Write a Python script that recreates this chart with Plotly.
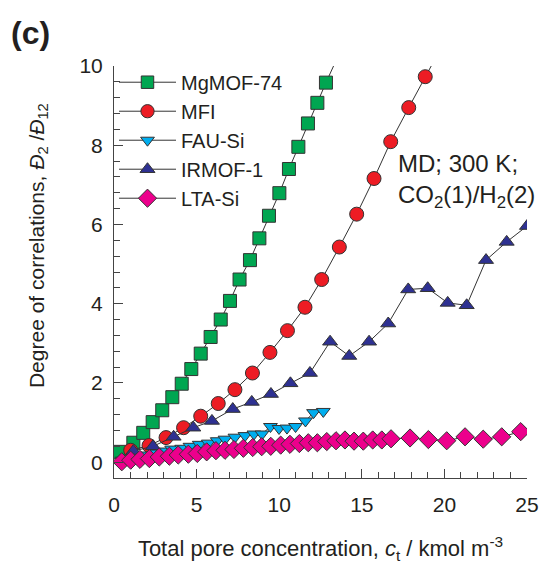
import plotly.graph_objects as go

# Total pore concentration c_t (kmol m^-3) and degree of correlations for each host
mg_x = [0.36, 1.17, 1.77, 2.34, 2.92, 3.53, 4.10, 4.68, 5.25, 5.85, 6.46, 7.02, 7.60,
        8.23, 8.80, 9.38, 10.01, 10.59, 11.16, 11.74, 12.31, 12.83, 13.40]
mg_y = [0.26, 0.49, 0.74, 1.01, 1.31, 1.64, 1.98, 2.35, 2.74, 3.16, 3.60, 4.07, 4.61,
        5.10, 5.65, 6.22, 6.79, 7.40, 7.96, 8.55, 9.07, 9.58, 10.10]

mfi_x = [1.01, 2.12, 3.15, 4.21, 5.25, 6.31, 7.32, 8.38, 9.44, 10.50, 11.56, 12.57,
         13.64, 14.69, 15.74, 16.75, 17.84, 18.84, 19.85]
mfi_y = [0.30, 0.42, 0.62, 0.87, 1.16, 1.48, 1.83, 2.25, 2.77, 3.32, 3.91, 4.61,
         5.43, 6.26, 7.16, 8.09, 8.95, 9.73, 10.50]

fau_x = [0.50, 1.00, 1.50, 2.00, 2.50, 3.00, 3.49, 4.10, 4.60, 5.16, 5.71, 6.25, 6.72,
         7.32, 7.93, 8.47, 8.96, 9.47, 9.99, 10.47, 10.99, 11.59, 12.08, 12.67]
fau_y = [0.05, 0.10, 0.14, 0.18, 0.23, 0.28, 0.33, 0.35, 0.40, 0.45, 0.48, 0.54, 0.58,
         0.63, 0.67, 0.71, 0.71, 0.90, 0.85, 0.86, 0.90, 1.04, 1.25, 1.28]

irm_x = [1.17, 2.36, 3.61, 4.80, 5.93, 7.19, 8.34, 9.50, 10.68, 11.86, 13.08, 14.24,
         15.44, 16.60, 17.81, 18.99, 20.20, 21.35, 22.52, 23.77, 25.00]
irm_y = [0.28, 0.40, 0.64, 0.87, 1.04, 1.34, 1.52, 1.72, 1.99, 2.25, 3.04, 2.68,
         3.04, 3.50, 4.36, 4.39, 4.02, 3.96, 5.10, 5.56, 5.96]

lta_x = [0.47, 1.01, 1.57, 2.14, 2.74, 3.35, 3.89, 4.50, 5.04, 5.61, 6.17, 6.72, 7.26,
         7.83, 8.40, 8.94, 9.49, 10.09, 10.65, 11.22, 11.76, 12.31, 12.88, 13.44, 13.98,
         14.53, 15.09, 15.66, 16.21, 16.77, 17.92, 19.03, 20.14, 21.25, 22.35, 23.47, 24.62]
lta_y = [0.01, 0.05, 0.07, 0.09, 0.13, 0.15, 0.18, 0.20, 0.22, 0.26, 0.29, 0.30, 0.32,
         0.35, 0.37, 0.39, 0.40, 0.43, 0.45, 0.47, 0.49, 0.49, 0.52, 0.54, 0.56,
         0.53, 0.53, 0.56, 0.56, 0.59, 0.61, 0.57, 0.54, 0.64, 0.58, 0.64, 0.77]

series = [
    ("MgMOF-74", mg_x, mg_y, "square", "#00a651", 13),
    ("MFI", mfi_x, mfi_y, "circle", "#ed1c24", 14),
    ("FAU-Si", fau_x, fau_y, "triangle-down", "#00aeef", 12),
    ("IRMOF-1", irm_x, irm_y, "triangle-up", "#2e3192", 13),
    ("LTA-Si", lta_x, lta_y, "diamond", "#ec008c", 14),
]

Y_MAX = 10
INK = "#231f20"
AXIS = "#444444"
FONT = "Liberation Sans, Arial, sans-serif"

fig = go.Figure()
for name, xs, ys, sym, col, size in series:
    # points beyond the top of the axis only carry the line off the frame
    sizes = [size if v <= Y_MAX else 0 for v in ys]
    fig.add_trace(go.Scatter(
        x=xs, y=ys, name=name, mode="lines+markers",
        line=dict(color="#333333", width=1),
        marker=dict(symbol=sym, size=sizes, color=col, opacity=1,
                    line=dict(color="#333333", width=1)),
    ))

fig.update_layout(
    width=541, height=564,
    margin=dict(l=114, r=14, t=66, b=86),
    paper_bgcolor="white", plot_bgcolor="white",
    font=dict(family=FONT, color=INK, size=21),
    showlegend=True,
    legend=dict(x=0.0, y=1.008, xanchor="left", yanchor="top",
                bgcolor="rgba(0,0,0,0)", font=dict(size=20),
                itemwidth=57, itemsizing="trace", tracegroupgap=0),
    xaxis=dict(
        range=[0, 25], showgrid=False, zeroline=False, automargin=False,
        showline=True, linecolor=AXIS, linewidth=1,
        ticks="inside", ticklen=9, tickcolor=AXIS, dtick=5, tick0=0,
        minor=dict(dtick=1, ticks="inside", ticklen=6, tickcolor=AXIS),
        tickfont=dict(size=21), ticklabelstandoff=8,
        title=dict(text="Total pore concentration, <i>c</i><sub>t</sub> / kmol m<sup>-3</sup>",
                   font=dict(size=22), standoff=27),
    ),
    yaxis=dict(
        range=[-0.4, Y_MAX], showgrid=False, zeroline=False, automargin=False,
        showline=True, linecolor=AXIS, linewidth=1,
        ticks="inside", ticklen=9, tickcolor=AXIS, dtick=2, tick0=0,
        minor=dict(dtick=0.4, ticks="inside", ticklen=6, tickcolor=AXIS),
        tickfont=dict(size=21), ticklabelstandoff=6,
    ),
    annotations=[
        dict(text="<b>(c)</b>", xref="paper", yref="paper", x=-0.255, y=1.080,
             xanchor="left", yanchor="middle", showarrow=False,
             font=dict(size=32, color=INK)),
        dict(text="Degree of correlations, <i>Đ</i><sub>2</sub> /<i>Đ</i><sub>12</sub>",
             xref="paper", yref="paper", x=-0.184, y=0.563, textangle=-90,
             xanchor="center", yanchor="middle", showarrow=False,
             font=dict(size=21, color=INK)),
        dict(text="MD; 300 K;<br>CO<sub>2</sub>(1)/H<sub>2</sub>(2)",
             xref="x", yref="y", x=17.1, y=7.1, xanchor="left", yanchor="middle",
             align="left", showarrow=False, font=dict(size=24, color=INK)),
    ],
)

fig.write_html("out.html")
